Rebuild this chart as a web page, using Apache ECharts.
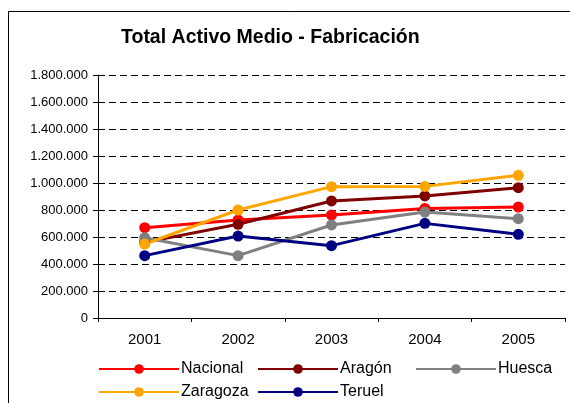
<!DOCTYPE html>
<html><head><meta charset="utf-8">
<script src="https://cdn.jsdelivr.net/npm/echarts@6/dist/echarts.min.js"></script>
<style>html,body{margin:0;padding:0;background:#fff}#c{width:570px;height:403px}</style>
</head><body><div id="c"></div>
<script>
const categories = ['2001','2002','2003','2004','2005'];
const nacional = [669000, 726000, 763000, 812000, 822000];
const aragon   = [560000, 694000, 867000, 904000, 965000];
const huesca   = [595000, 462000, 689000, 785000, 736000];
const zaragoza = [548000, 800000, 973000, 975000, 1057000];
const teruel   = [462000, 607000, 536000, 701000, 620000];
const seriesNames = ['Nacional','Aragón','Huesca','Zaragoza','Teruel'];
const seriesColors = ['#FF0000','#800000','#808080','#FFA500','#000080'];
const seriesData = [nacional, aragon, huesca, zaragoza, teruel];
const titleText = 'Total Activo Medio - Fabricación';

function fmt(v){ return String(v).replace(/\B(?=(\d{3})+(?!\d))/g,'.'); }

const chart = echarts.init(document.getElementById('c'), null, {renderer:'canvas'});
const font = 'Liberation Sans, Arial, sans-serif';
const legendPos = [[98,361],[257,361],[415,361],[98,384],[257,384]];
chart.setOption({
  animation:false,
  backgroundColor:'#fff',
  graphic:[{type:'rect',shape:{x:8.5,y:11.5,width:700,height:600},style:{fill:'none',stroke:'#000',lineWidth:1},z:-1}],
  title:{text:titleText,top:28,left:121,padding:0,textStyle:{fontFamily:font,fontSize:19.5,fontWeight:'bold',color:'#000'}},
  grid:{left:98,right:5,top:75,bottom:85,containLabel:false},
  xAxis:{type:'category',data:categories,boundaryGap:true,
    axisLine:{lineStyle:{color:'#000',width:1}},
    axisTick:{show:true,length:4,lineStyle:{color:'#000'}},
    axisLabel:{fontFamily:font,fontSize:15,color:'#000',margin:14}},
  yAxis:{type:'value',min:0,max:1800000,interval:200000,
    axisLine:{show:true,lineStyle:{color:'#000',width:1}},
    axisTick:{show:true,length:5,lineStyle:{color:'#000'}},
    axisLabel:{fontFamily:font,fontSize:13,color:'#000',margin:10,formatter:fmt},
    splitLine:{show:true,lineStyle:{color:'#000',type:[7,4],width:1}}},
  legend: seriesNames.map((n,i)=>({data:[n],left:legendPos[i][0],top:legendPos[i][1],itemWidth:80,itemHeight:12,itemGap:0,padding:0,
    textStyle:{fontFamily:font,fontSize:16,color:'#000',padding:[0,0,0,-3]}})),
  series: seriesNames.map((n,i)=>({name:n,type:'line',data:seriesData[i],symbol:'circle',symbolSize:11,
    color:seriesColors[i],lineStyle:{color:seriesColors[i],width:3},itemStyle:{color:seriesColors[i]}}))
});
</script></body></html>
